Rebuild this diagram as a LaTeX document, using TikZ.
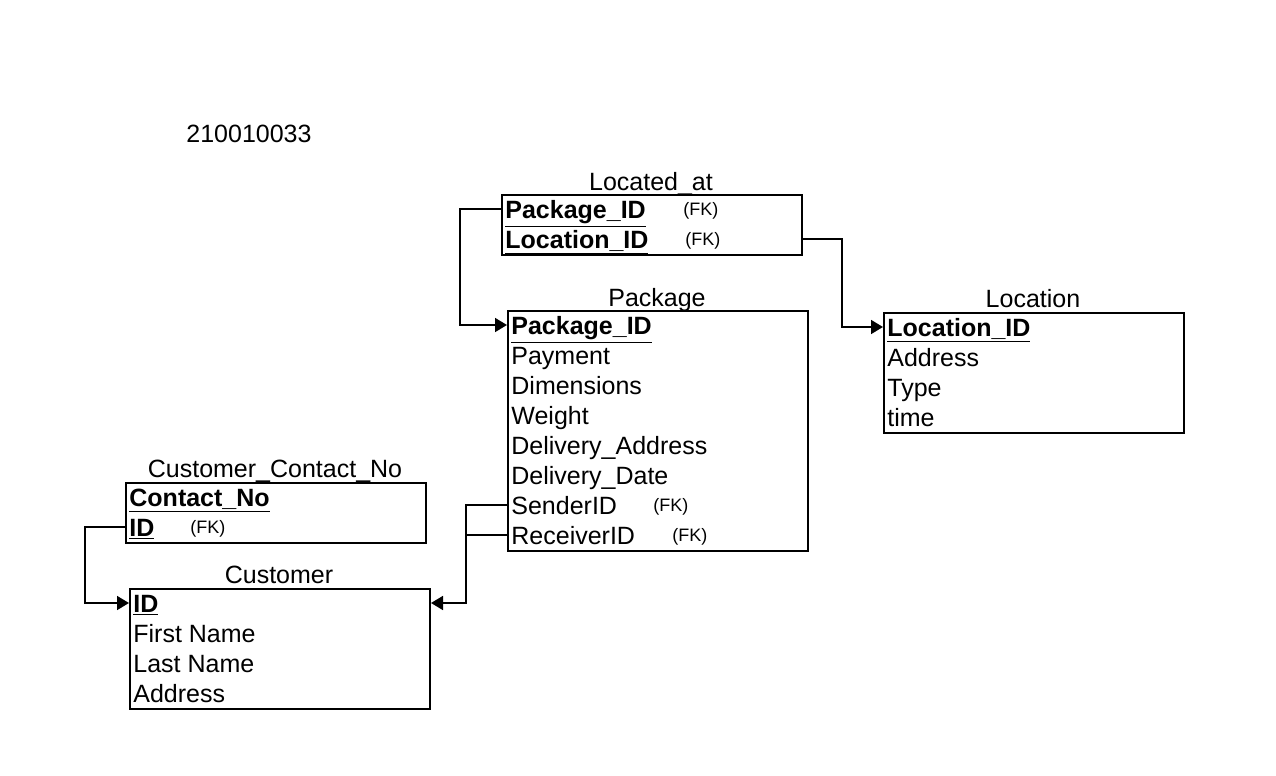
\documentclass[tikz,border=0pt]{standalone}
\usepackage{fontspec}
\setmainfont{Liberation Sans}
\usetikzlibrary{arrows.meta}
\begin{document}
\begin{tikzpicture}[x=0.5pt,y=-0.5pt,
  box/.style={draw, line width=1pt, inner sep=0pt, anchor=north west, minimum width=150pt},
  row/.style={anchor=west, inner sep=0pt, text height=9pt, text depth=0pt, font=\fontsize{12.5}{15}\selectfont},
  ttl/.style={anchor=center, inner sep=0pt, text height=9pt, text depth=0pt, font=\fontsize{12.5}{15}\selectfont},
  fk/.style={anchor=west, inner sep=0pt, text height=6.4pt, text depth=0pt, font=\fontsize{9}{11}\selectfont},
  link/.style={draw, line width=0.8pt},
  tip/.style={-{Triangle[length=6pt,width=7pt]}}]
\useasboundingbox (0,0) rectangle (1276,776);
\fill[white] (0,0) rectangle (1276,776);
\newcommand{\pkey}[1]{\underline{\textbf{#1}}}

\node[ttl] (num) at (249,133) {210010033};

% Located_at
\node[ttl] (lat) at (651,181) {Located\_at};
\node[box, minimum height=30pt] (la) at (501,194) {};
\node[row] (la1) at (505,209) {\pkey{Package\_ID}};
\node[row] (la2) at (505,239) {\pkey{Location\_ID}};
\node[fk] (lafk1) at (683,209) {(FK)};
\node[fk] (lafk2) at (685,239) {(FK)};

% Package
\node[ttl] (pkt) at (657,297) {Package};
\node[box, minimum height=120pt] (pk) at (507,310) {};
\node[row] (pk1) at (511,325) {\pkey{Package\_ID}};
\node[row] (pk2) at (511,355) {Payment};
\node[row] (pk3) at (511,385) {Dimensions};
\node[row] (pk4) at (511,415) {Weight};
\node[row] (pk5) at (511,445) {Delivery\_Address};
\node[row] (pk6) at (511,475) {Delivery\_Date};
\node[row] (pk7) at (511,505) {SenderID};
\node[row] (pk8) at (511,535) {ReceiverID};
\node[fk] (pkfk7) at (653,505) {(FK)};
\node[fk] (pkfk8) at (672,535) {(FK)};

% Location
\node[ttl] (lct) at (1033,298) {Location};
\node[box, minimum height=60pt] (lc) at (883,312) {};
\node[row] (lc1) at (887,327) {\pkey{Location\_ID}};
\node[row] (lc2) at (887,357) {Address};
\node[row] (lc3) at (887,387) {Type};
\node[row] (lc4) at (887,417) {time};

% Customer_Contact_No
\node[ttl] (cct) at (275,468) {Customer\_Contact\_No};
\node[box, minimum height=30pt] (cc) at (125,482) {};
\node[row] (cc1) at (129,497) {\pkey{Contact\_No}};
\node[row] (cc2) at (129,527) {\pkey{ID}};
\node[fk] (ccfk2) at (190,527) {(FK)};

% Customer
\node[ttl] (cut) at (279,574) {Customer};
\node[box, minimum height=60pt] (cu) at (129,588) {};
\node[row] (cu1) at (133,603) {\pkey{ID}};
\node[row] (cu2) at (133,633) {First Name};
\node[row] (cu3) at (133,663) {Last Name};
\node[row] (cu4) at (133,693) {Address};

% connectors
\draw[link, tip] (la1.west -| la.west) -- ++(-41,0) |- (pk1.west -| pk.west);
\draw[link, tip] (la2.west -| la.east) -- ++(39,0) |- (lc1.west -| lc.west);
\draw[link, tip] (cc2.west -| cc.west) -- ++(-40,0) |- (cu1.west -| cu.west);
\draw[link, tip] (pk7.west -| pk.west) -- ++(-41,0) |- (cu1.west -| cu.east);
\draw[link] (pk8.west -| pk.west) -- ++(-41,0);
\end{tikzpicture}
\end{document}
